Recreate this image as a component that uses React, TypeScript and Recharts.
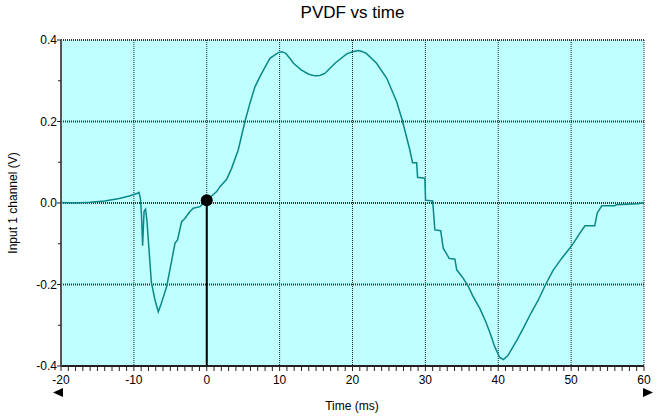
import { CartesianGrid, Line, LineChart, ReferenceDot, ReferenceLine, XAxis, YAxis } from 'recharts';

// PVDF sensor trace, time in ms, input 1 channel in volts
const TIME_MS = [
  -20, -18, -16, -14, -12, -10.5, -9.5, -9.3, -9.1, -8.95, -8.8, -8.6, -8.4, -8.2, -7.6, -7.1, -6.65,
  -6.3, -5.5, -4.8, -4.36, -4.0, -3.45, -3.0, -2.3, -1.85, -0.93, 0, 0.6, 1.36, 1.81, 2.73, 3.41, 4.32,
  5.24, 5.93, 6.61, 7.53, 8.67, 9.81, 10.3, 10.8, 11.4, 11.9, 13.0, 14.0, 14.84, 15.5, 16.2, 17.6,
  19.2, 20.0, 20.8, 21.3, 21.9, 23.3, 24.7, 26.05, 26.8, 27.87, 28.24, 28.8, 28.93, 29.93, 30.03,
  31.0, 31.3, 32.1, 32.45, 33.27, 34.05, 34.3, 35.2, 35.9, 36.5, 37.5, 38.3, 38.9, 39.5, 40.2, 40.7,
  41.3, 41.9, 42.6, 43.5, 44.5, 45.5, 46.5, 47.5, 48.7, 49.8, 50.3, 51.2, 51.9, 53.25, 53.57, 54.2,
  56.0, 56.2, 59.2, 60,
];
const INPUT_V = [
  0.001, 0.0, 0.002, 0.005, 0.011, 0.018, 0.024, 0.026, 0.01, -0.03, -0.105, -0.02, -0.015, -0.045,
  -0.195, -0.238, -0.267, -0.25, -0.205, -0.14, -0.099, -0.09, -0.046, -0.038, -0.021, -0.013, -0.009,
  0.007, 0.016, 0.028, 0.04, 0.058, 0.085, 0.13, 0.2, 0.245, 0.285, 0.318, 0.355, 0.369, 0.371, 0.368,
  0.355, 0.343, 0.326, 0.316, 0.312, 0.313, 0.318, 0.343, 0.366, 0.371, 0.374, 0.372, 0.367, 0.343,
  0.306, 0.249, 0.205, 0.13, 0.099, 0.099, 0.063, 0.061, 0.007, 0.005, -0.066, -0.068, -0.111, -0.136,
  -0.138, -0.164, -0.185, -0.205, -0.228, -0.26, -0.292, -0.32, -0.352, -0.379, -0.384, -0.375, -0.357,
  -0.335, -0.305, -0.27, -0.238, -0.2, -0.166, -0.136, -0.111, -0.099, -0.074, -0.056, -0.056, -0.025,
  -0.007, -0.007, -0.004, -0.002, 0.001,
];

const X_MAJOR = [-20, -10, 0, 10, 20, 30, 40, 50, 60];
const X_GRID = [-10, 0, 10, 20, 30, 40, 50, 60];
const Y_MAJOR = [-0.4, -0.2, 0, 0.2, 0.4];
const Y_GRID = [-0.2, 0, 0.2, 0.4];
const CURSOR = { t: 0, v: 0.007 };

const data = TIME_MS.map((t, i) => ({ t, v: INPUT_V[i] }));
// minor ticks: every 1 ms on x, every 0.1 V on y
const xTicks = Array.from({ length: 81 }, (_, i) => i - 20);
const yTicks = Array.from({ length: 9 }, (_, i) => (i - 4) / 10);

const FONT = '"Liberation Sans", Arial, sans-serif';

function XTick({ x, y, payload }: any) {
  const v = payload.value;
  const major = X_MAJOR.includes(v);
  return (
    <g>
      <line x1={x} x2={x} y1={y} y2={y + 5} stroke="#222" strokeWidth={1} />
      {major && (
        <text x={x} y={y + 18} textAnchor="middle" fontSize={12} fontFamily={FONT} fill="#000">
          {v}
        </text>
      )}
      {v === -20 && <polygon points={`${x - 8},${y + 26.5} ${x + 2},${y + 22} ${x + 2},${y + 31}`} fill="#000" />}
      {v === 60 && <polygon points={`${x + 9},${y + 26.5} ${x - 1},${y + 22} ${x - 1},${y + 31}`} fill="#000" />}
    </g>
  );
}

function YTick({ x, y, payload }: any) {
  const v = Math.round(payload.value * 10) / 10;
  const major = Y_MAJOR.some((m) => Math.abs(m - v) < 1e-6);
  return (
    <g>
      <line x1={x - (major ? 4 : 3)} x2={x} y1={y} y2={y} stroke="#222" strokeWidth={1} />
      {major && (
        <text x={x - 4} y={y + 4} textAnchor="end" fontSize={12} fontFamily={FONT} fill="#000">
          {v.toFixed(1)}
        </text>
      )}
    </g>
  );
}

export default function App() {
  return (
    <div style={{ position: 'absolute', left: 0, top: 0, width: 660, height: 416, background: '#fff', fontFamily: FONT }}>
      <LineChart width={660} height={416} data={data} margin={{ top: 40, right: 16, bottom: 20, left: 16 }}>
        <CartesianGrid
          vertical={false}
          horizontalValues={Y_GRID}
          fill="#C0FFFF"
          stroke="#333"
          strokeWidth={2}
          strokeDasharray="1 1"
        />
        <CartesianGrid horizontal={false} verticalValues={X_GRID} stroke="#222" strokeWidth={1} strokeDasharray="1 1" />
        <XAxis
          dataKey="t"
          type="number"
          domain={[-20, 60]}
          ticks={xTicks}
          interval={0}
          height={30}
          tickSize={0}
          tickMargin={0}
          tickLine={false}
          tick={<XTick />}
          axisLine={{ stroke: '#222', strokeWidth: 2 }}
          allowDataOverflow
        />
        <YAxis
          type="number"
          domain={[-0.4, 0.4]}
          ticks={yTicks}
          interval={0}
          width={45}
          tickSize={0}
          tickMargin={0}
          tickLine={false}
          tick={<YTick />}
          axisLine={{ stroke: '#555', strokeWidth: 2 }}
          allowDataOverflow
        />
        <ReferenceLine
          segment={[
            { x: CURSOR.t, y: CURSOR.v },
            { x: CURSOR.t, y: -0.4 },
          ]}
          stroke="#000"
          strokeWidth={2}
        />
        <Line dataKey="v" type="linear" stroke="#0A8888" strokeWidth={1.5} dot={false} isAnimationActive={false} />
        <ReferenceDot x={CURSOR.t} y={CURSOR.v} r={6} fill="#000" stroke="none" />
      </LineChart>
      <div style={{ position: 'absolute', left: 61, top: 3, width: 583, textAlign: 'center', fontSize: 17 }}>
        PVDF vs time
      </div>
      <div
        style={{
          position: 'absolute',
          left: 13,
          top: 203,
          transform: 'translate(-50%, -50%) rotate(-90deg)',
          whiteSpace: 'nowrap',
          fontSize: 12,
        }}
      >
        Input 1 channel (V)
      </div>
      <div
        style={{
          position: 'absolute',
          left: 352,
          top: 406,
          transform: 'translate(-50%, -50%)',
          whiteSpace: 'nowrap',
          fontSize: 12,
        }}
      >
        Time (ms)
      </div>
    </div>
  );
}
